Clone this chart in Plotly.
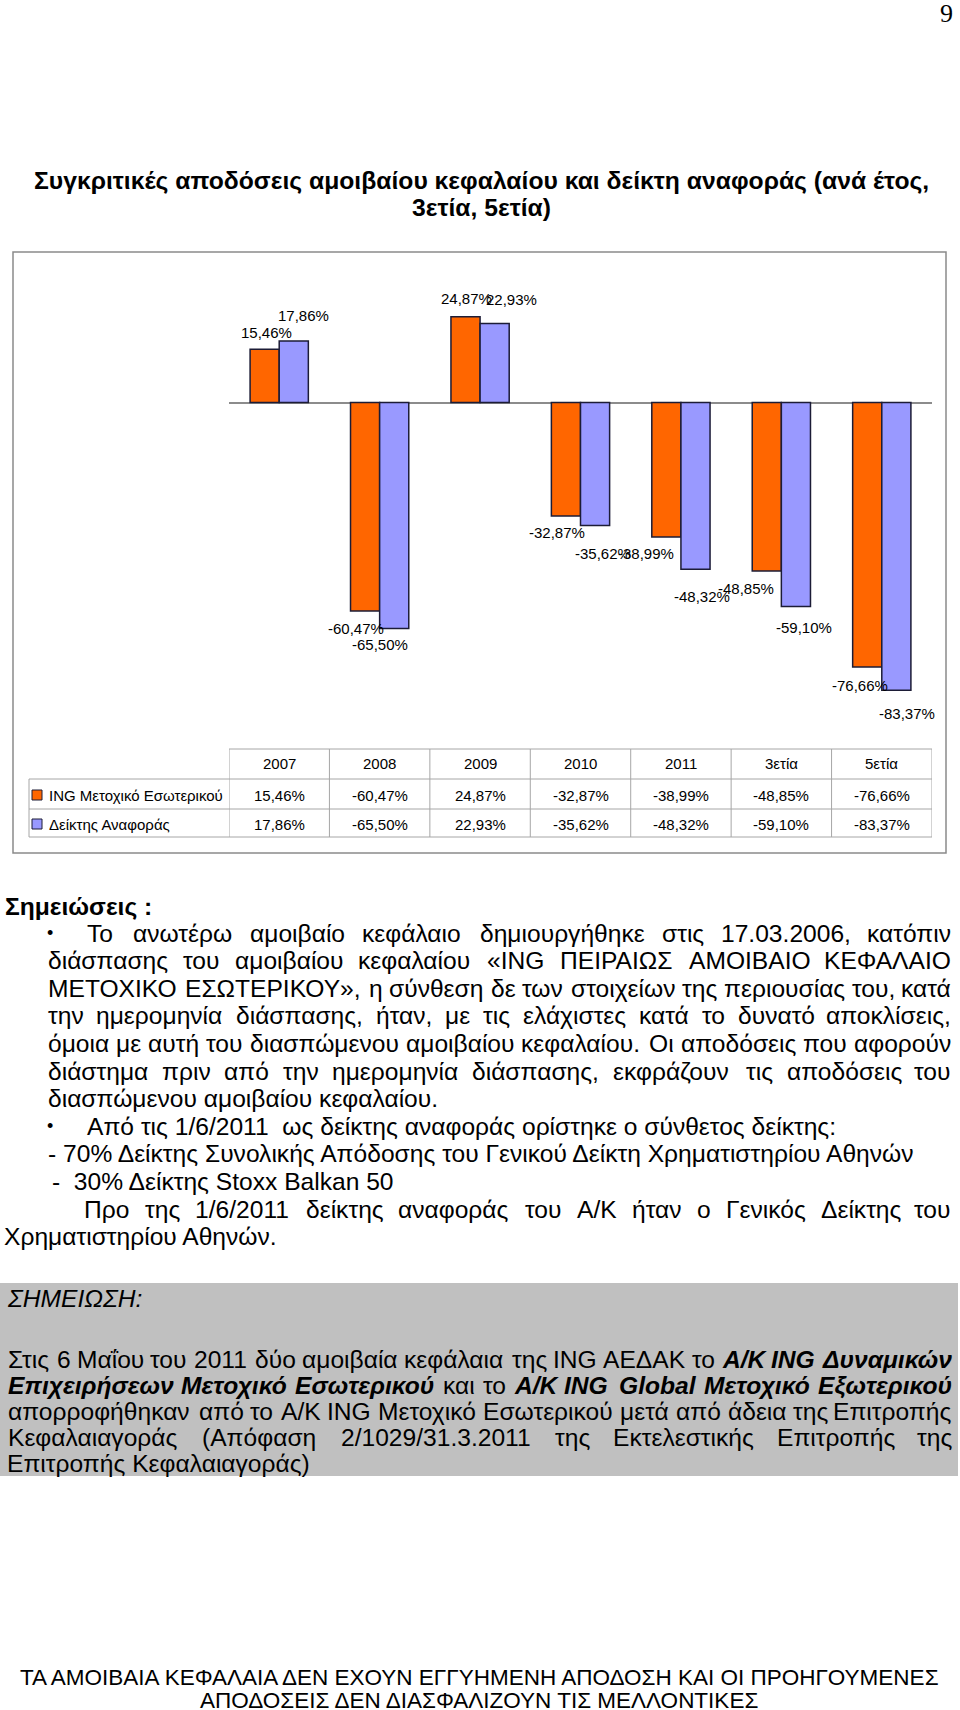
import unicodedata
import plotly.graph_objects as go

# ---------------- data ----------------
categories = ["2007", "2008", "2009", "2010", "2011", "3ετία", "5ετία"]
fund_name = "ING Μετοχικό Εσωτερικού"
index_name = "Δείκτης Αναφοράς"
fund_returns = [15.46, -60.47, 24.87, -32.87, -38.99, -48.85, -76.66]
index_returns = [17.86, -65.50, 22.93, -35.62, -48.32, -59.10, -83.37]

# label nudges in pixels (style only)
fund_label_dx = [2, -9, 1, -9, -20, -21, -7]
fund_label_dy = [17, 17, 18, 17, 16, 17, 19]
index_label_dx = [10, -14, 17, 8, 7, 8, 11]
index_label_dy = [25, 16, 24, 28, 27, 21, 23]

page_number = "9"
title_lines = ["Συγκριτικές αποδόσεις αμοιβαίου κεφαλαίου και δείκτη αναφοράς (ανά έτος,",
               "3ετία, 5ετία)"]
notes_heading = "Σημειώσεις :"
notes_justified_1 = [
    "Το ανωτέρω αμοιβαίο κεφάλαιο δημιουργήθηκε στις 17.03.2006, κατόπιν",
    "διάσπασης του αμοιβαίου κεφαλαίου «ING ΠΕΙΡΑΙΩΣ ΑΜΟΙΒΑΙΟ ΚΕΦΑΛΑΙΟ",
    "ΜΕΤΟΧΙΚΟ ΕΣΩΤΕΡΙΚΟΥ», η σύνθεση δε των στοιχείων της περιουσίας του, κατά",
    "την ημερομηνία διάσπασης, ήταν, με τις ελάχιστες κατά το δυνατό αποκλίσεις,",
    "όμοια με αυτή του διασπώμενου αμοιβαίου κεφαλαίου. Οι αποδόσεις που αφορούν",
    "διάστημα πριν από την ημερομηνία διάσπασης, εκφράζουν τις αποδόσεις του",
]
notes_last_1 = "διασπώμενου αμοιβαίου κεφαλαίου."
notes_bullet_2 = "Από τις 1/6/2011  ως δείκτης αναφοράς ορίστηκε ο σύνθετος δείκτης:"
notes_dash_1 = "- 70% Δείκτης Συνολικής Απόδοσης του Γενικού Δείκτη Χρηματιστηρίου Αθηνών"
notes_dash_2 = "-  30% Δείκτης Stoxx Balkan 50"
notes_before_1 = "Προ της 1/6/2011 δείκτης αναφοράς του Α/Κ ήταν ο Γενικός Δείκτης του"
notes_before_2 = "Χρηματιστηρίου Αθηνών."
box_heading = "ΣΗΜΕΙΩΣΗ:"
box_lines = [
    [("Στις 6 Μαΐου του 2011 δύο αμοιβαία κεφάλαια της ING ΑΕΔΑΚ το", "r"),
     ("Α/Κ ING Δυναμικών", "bi")],
    [("Επιχειρήσεων Μετοχικό Εσωτερικού", "bi"), ("και το", "r"),
     ("Α/Κ ING Global Μετοχικό Εξωτερικού", "bi")],
    [("απορροφήθηκαν από το Α/Κ ING Μετοχικό Εσωτερικού μετά από άδεια της Επιτροπής", "r")],
    [("Κεφαλαιαγοράς (Απόφαση 2/1029/31.3.2011 της Εκτελεστικής Επιτροπής της", "r")],
]
box_last = "Επιτροπής Κεφαλαιαγοράς)"
footer_lines = ["ΤΑ ΑΜΟΙΒΑΙΑ ΚΕΦΑΛΑΙΑ ΔΕΝ ΕΧΟΥΝ ΕΓΓΥΗΜΕΝΗ ΑΠΟΔΟΣΗ ΚΑΙ ΟΙ ΠΡΟΗΓΟΥΜΕΝΕΣ",
                "ΑΠΟΔΟΣΕΙΣ ΔΕΝ ΔΙΑΣΦΑΛΙΖΟΥΝ ΤΙΣ ΜΕΛΛΟΝΤΙΚΕΣ"]

# ---------------- layout helpers ----------------
W, H = 960, 1710
FONT = "Liberation Sans, Arial, sans-serif"
ORANGE = "#FF6600"
LAVENDER = "#9999FF"
EDGE = "#1c1c36"
BODY = 24.6


def px(x):
    return x / W


def py(y):
    return 1 - y / H


# approximate Arial advance widths (em)
CW = {}
for c, w in zip("abcdefghijklmnopqrstuvwxyz",
                [.556, .556, .5, .556, .556, .278, .556, .556, .222, .222, .5, .222, .833,
                 .556, .556, .556, .556, .333, .5, .278, .556, .5, .722, .5, .5, .5]):
    CW[c] = w
for c, w in zip("ABCDEFGHIJKLMNOPQRSTUVWXYZ",
                [.667, .667, .722, .722, .667, .611, .778, .722, .278, .5, .667, .556, .833,
                 .722, .778, .667, .778, .722, .667, .611, .722, .667, .944, .667, .667, .611]):
    CW[c] = w
for c, w in zip("ΑΒΓΔΕΖΗΘΙΚΛΜΝΞΟΠΡΣΤΥΦΧΨΩ",
                [.667, .667, .551, .668, .667, .611, .722, .778, .278, .667, .668, .833,
                 .722, .649, .778, .722, .667, .618, .611, .667, .798, .667, .835, .748]):
    CW[c] = w
for c, w in zip("αβγδεζηθικλμνξοπρσςτυφχψω",
                [.578, .575, .5, .557, .446, .441, .556, .556, .222, .5, .5, .576, .5, .448,
                 .556, .69, .57, .617, .48, .395, .547, .713, .5, .713, .781]):
    CW[c] = w
for c in "0123456789":
    CW[c] = .556
CW.update({" ": .278, ".": .278, ",": .278, ":": .278, ";": .278, "-": .333, "%": .889,
           "/": .278, "(": .333, ")": .333, "«": .556, "»": .556})


def text_width(s, size, bold=False):
    w = 0.0
    for ch in s:
        base = unicodedata.normalize("NFD", ch)[0]
        w += CW.get(base, .556)
    return w * size * (1.08 if bold else 1.0)


def styled(s, st):
    if st == "bi":
        return "<b><i>" + s + "</i></b>"
    if st == "b":
        return "<b>" + s + "</b>"
    if st == "i":
        return "<i>" + s + "</i>"
    return s


annotations = []
shapes = []


def add_text(x, y, s, size=BODY, anchor="left", family=FONT, color="black"):
    annotations.append(dict(
        x=px(x), y=py(y), xref="paper", yref="paper", text=s, showarrow=False,
        xanchor=anchor, yanchor="middle", align=anchor, borderpad=0,
        font=dict(family=family, size=size, color=color)))


def add_justified(x0, x1, y, segments, size=BODY):
    words = []
    for s, st in segments:
        for wd in s.split():
            words.append((wd, st))
    widths = [text_width(wd, size, st in ("b", "bi")) for wd, st in words]
    gap = (x1 - x0 - sum(widths)) / max(len(words) - 1, 1)
    x = x0
    n = len(words)
    for i, ((wd, st), w) in enumerate(zip(words, widths)):
        if i == n - 1:
            add_text(x1, y, styled(wd, st), size, anchor="right")
        else:
            add_text(x, y, styled(wd, st), size)
        x += w + gap


def nb(s):
    return s.replace("  ", "\u00a0\u00a0")


def pct(v):
    return ("%.2f" % v).replace(".", ",") + "%"


# ---------------- chart ----------------
ZERO_PX = 402.5
PX_PER_PCT = 3.45
PLOT_TOP, PLOT_BOT = 262, 740
X_LEFT, X_RIGHT = 229, 932

fig = go.Figure()
fig.add_trace(go.Bar(x=categories, y=fund_returns, name=fund_name,
                     marker=dict(color=ORANGE, line=dict(color=EDGE, width=1.5)),
                     showlegend=False, hoverinfo="skip"))
fig.add_trace(go.Bar(x=categories, y=index_returns, name=index_name,
                     marker=dict(color=LAVENDER, line=dict(color=EDGE, width=1.5)),
                     showlegend=False, hoverinfo="skip"))

# on a category axis, annotations take the category serial number
half = 0.29 / 2 * (X_RIGHT - X_LEFT) / len(categories)
for series, sign, dxs, dys in ((fund_returns, -1, fund_label_dx, fund_label_dy),
                               (index_returns, 1, index_label_dx, index_label_dy)):
    for i, (v, dx, dy) in enumerate(zip(series, dxs, dys)):
        annotations.append(dict(
            x=i, y=v, xref="x", yref="y", text=pct(v), showarrow=False,
            xanchor="center", yanchor="middle", xshift=sign * half + dx,
            yshift=dy if v > 0 else -dy,
            font=dict(family=FONT, size=15, color="black")))

# outer chart frame
shapes.append(dict(type="rect", xref="paper", yref="paper",
                   x0=px(13), x1=px(946), y0=py(853), y1=py(252),
                   line=dict(color="#8a8a8a", width=1.5), layer="below"))

# data table under the chart
GRID = "#a6a6a6"
T_HEAD, T_R1, T_R2, T_BOT = 749, 779, 809, 837
shapes.append(dict(type="line", xref="x", yref="paper", x0=-0.5, x1=len(categories) - 0.5,
                   y0=py(T_HEAD), y1=py(T_HEAD), line=dict(color=GRID, width=1)))
for yy in (T_R1, T_R2, T_BOT):
    shapes.append(dict(type="line", xref="paper", yref="paper", x0=px(29), x1=px(X_RIGHT),
                       y0=py(yy), y1=py(yy), line=dict(color=GRID, width=1)))
shapes.append(dict(type="line", xref="paper", yref="paper", x0=px(29), x1=px(29),
                   y0=py(T_R1), y1=py(T_BOT), line=dict(color=GRID, width=1)))
for k in range(len(categories) + 1):
    shapes.append(dict(type="line", xref="x", yref="paper", x0=k - 0.5, x1=k - 0.5,
                       y0=py(T_HEAD), y1=py(T_BOT), line=dict(color=GRID, width=1)))

for i, (cat, f, r) in enumerate(zip(categories, fund_returns, index_returns)):
    for yy, s in ((763, cat), (795, pct(f)), (824, pct(r))):
        annotations.append(dict(x=i, y=py(yy), xref="x", yref="paper", text=s,
                                showarrow=False, xanchor="center", yanchor="middle",
                                font=dict(family=FONT, size=15, color="black")))

for yy, name, col in ((795, fund_name, ORANGE), (824, index_name, LAVENDER)):
    shapes.append(dict(type="rect", xref="paper", yref="paper", x0=px(32), x1=px(42),
                       y0=py(yy + 5), y1=py(yy - 5), fillcolor=col,
                       line=dict(color=EDGE, width=1)))
    add_text(48, yy, name, size=15)

# ---------------- page text ----------------
add_text(946, 14, page_number, size=26, anchor="center",
         family="Liberation Serif, Times New Roman, serif")
add_text(481, 180, "<b>" + title_lines[0] + "</b>", size=24.7, anchor="center")
add_text(481, 207, "<b>" + title_lines[1] + "</b>", size=24.7, anchor="center")

LS = 27.6
add_text(4, 906, "<b>" + notes_heading + "</b>", size=BODY)
add_text(46, 933, "•", size=18)
ys = [933 + LS * k for k in range(12)]
add_justified(86, 952, ys[0], [(notes_justified_1[0], "r")])
for i in range(1, 6):
    add_justified(47, 952, ys[i], [(notes_justified_1[i], "r")])
add_text(47, ys[6], notes_last_1)
add_text(46, ys[7], "•", size=18)
add_text(86, ys[7], nb(notes_bullet_2))
add_text(47, ys[8], notes_dash_1)
add_text(51, ys[9], nb(notes_dash_2))
add_justified(83, 952, ys[10], [(notes_before_1, "r")])
add_text(3, ys[11], notes_before_2)

# shaded note box
shapes.append(dict(type="rect", xref="paper", yref="paper", x0=px(0), x1=px(958),
                   y0=py(1476), y1=py(1283), fillcolor="#c0c0c0", line=dict(width=0),
                   layer="below"))
add_text(6, 1298, "<i>" + box_heading + "</i>")
for k, segs in enumerate(box_lines):
    add_justified(7, 953, 1359 + 26 * k, segs)
add_text(6, 1359 + 26 * 4, box_last)

add_text(479, 1677, footer_lines[0], size=22.5, anchor="center")
add_text(479, 1700, footer_lines[1], size=22.5, anchor="center")

fig.update_layout(
    width=W, height=H, margin=dict(l=0, r=0, t=0, b=0),
    paper_bgcolor="white", plot_bgcolor="rgba(0,0,0,0)",
    barmode="group", bargap=0.42, bargroupgap=0,
    xaxis=dict(type="category", domain=[px(X_LEFT), px(X_RIGHT)],
               range=[-0.5, len(categories) - 0.5], showticklabels=False,
               showgrid=False, zeroline=False, showline=False, ticks="", fixedrange=True),
    yaxis=dict(domain=[py(PLOT_BOT), py(PLOT_TOP)],
               range=[(ZERO_PX - PLOT_BOT) / PX_PER_PCT, (ZERO_PX - PLOT_TOP) / PX_PER_PCT],
               showticklabels=False, showgrid=False, zeroline=True,
               zerolinecolor="#8c8c8c", zerolinewidth=1.5, showline=False, ticks=""),
    annotations=annotations, shapes=shapes,
    font=dict(family=FONT),
)

fig.write_html("out.html", config={"displayModeBar": False},
               post_script="document.body.style.margin='0';"
                           "document.body.style.overflow='hidden';")
